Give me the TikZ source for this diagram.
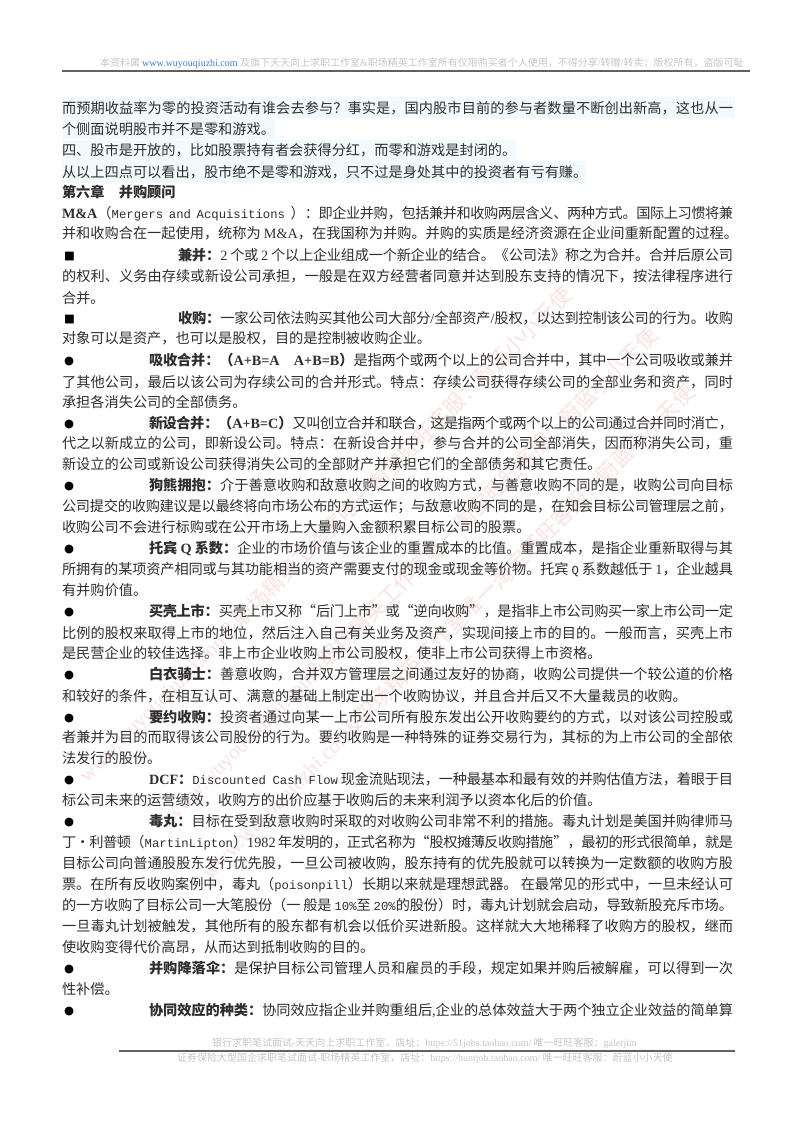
\documentclass[tikz,border=0pt]{standalone}
\usepackage{fontspec}
\setmainfont{Noto Sans CJK SC}
\newfontfamily\laf{Liberation Serif}
\newfontfamily\mof{Liberation Mono}
\newfontfamily\syf{DejaVu Sans}
\newcommand\la[1]{{\laf #1}}
\newcommand\mo[1]{{\mof\fontsize{9.2pt}{11pt}\selectfont #1}}
\definecolor{ink}{HTML}{2E2E2E}
\definecolor{faint}{HTML}{C6C6C6}
\definecolor{wm}{HTML}{FBE2E2}
\definecolor{hl}{HTML}{F3FAFD}
\definecolor{urlblue}{HTML}{3F7FD0}
\newcounter{ln}
\XeTeXlinebreaklocale "zh"
\XeTeXlinebreakskip=0pt plus 4pt minus 0.5pt
\tikzset{
  bodyline/.style={inner sep=0pt,outer sep=0pt,anchor=base west,text=ink,font=\fontsize{10.65pt}{14pt}\selectfont},
  tinyline/.style={inner sep=0pt,outer sep=0pt,anchor=base west,text=faint,font=\fontsize{7.5pt}{9pt}\selectfont},
  wmark/.style={inner sep=0pt,outer sep=0pt,anchor=base west,rotate=45,text=wm,font=\fontsize{16pt}{18pt}\selectfont},
  glyphmark/.style={inner sep=0pt,outer sep=0pt,anchor=base west,text=black,font=\syf\fontsize{8.6pt}{10pt}\selectfont},
}
% justified line: x-start, centre y, text
\newcommand\JL[3]{\stepcounter{ln}\pgfmathsetmacro\jwidth{(733-#1)*0.75}%
  \node[bodyline] (ln\theln) at (#1,#2+5.5)
   {\vbox{\hsize=\jwidth pt\leftskip=0pt\rightskip=0pt\parfillskip=0pt\parindent=0pt\pretolerance=-1\tolerance=10000\linepenalty=9000\emergencystretch=0pt\hbadness=10000\hfuzz=30pt\noindent #3\par}};}
% natural (left aligned) line
\newcommand\NL[2]{\stepcounter{ln}\node[bodyline] (ln\theln) at (62,#1+5.5) {#2};}
% marker
\newcommand\MK[2]{\stepcounter{ln}\node[glyphmark] (ln\theln) at (64,#1+4.5) {#2};}
\newcommand\WM[2]{\stepcounter{ln}\node[wmark] (ln\theln) at (#1,#2)
  {\la{www.wuyouqiuzhi.com}\&职场精英工作室唯一淘宝旺旺客服：蔚蓝小小天使};}
\begin{document}
\begin{tikzpicture}[x=0.75pt,y=-0.75pt]
\useasboundingbox (0,0) rectangle (800,1132);
\fill[white] (0,0) rectangle (800,1132);
% highlights
\fill[hl] (62,97) rectangle (735,118);
\fill[hl] (62,118) rectangle (275,139);
\fill[hl] (62,140) rectangle (516,161);
\fill[hl] (62,161) rectangle (586,183);
% watermarks
\WM{87}{783}
\WM{173}{823}
\WM{210}{880}
% header
\node[tinyline] (head) at (100,66.5) {本资料属 \textcolor{urlblue}{\underline{\la{www.wuyouqiuzhi.com }}}及旗下天天向上求职工作室\la{\&}职场精英工作室所有仅限购买者个人使用，不得分享\la{/}转赠\la{/}转卖；版权所有，盗版可耻};
\coordinate (hl) at (62,71);
\coordinate (hr) at (750,71);
\draw[black!62,line width=1pt] (hl) -- (hr);
% body
\JL{62}{108}{而预期收益率为零的投资活动有谁会去参与？事实是，国内股市目前的参与者数量不断创出新高，这也从一}
\NL{129}{个侧面说明股市并不是零和游戏。}
\NL{150}{四、股市是开放的，比如股票持有者会获得分红，而零和游戏是封闭的。}
\NL{172}{从以上四点可以看出，股市绝不是零和游戏，只不过是身处其中的投资者有亏有赚。}
\NL{192}{\textbf{第六章　并购顾问}}
\JL{62}{213}{\textbf{\la{M\&A}}（\mo{Mergers and Acquisitions }）：即企业并购，包括兼并和收购两层含义、两种方式。国际上习惯将兼}
\NL{233}{并和收购合在一起使用，统称为 \la{M\&A}，在我国称为并购。并购的实质是经济资源在企业间重新配置的过程。}
\MK{255}{■}
\JL{178}{255}{\textbf{兼并：}\la{2} 个或 \la{2} 个以上企业组成一个新企业的结合。《公司法》称之为合并。合并后原公司}
\JL{62}{276}{的权利、义务由存续或新设公司承担，一般是在双方经营者同意并达到股东支持的情况下，按法律程序进行}
\NL{298}{合并。}
\MK{318}{■}
\JL{178}{318}{\textbf{收购：}一家公司依法购买其他公司大部分\la{/}全部资产\la{/}股权，以达到控制该公司的行为。收购}
\NL{338}{对象可以是资产，也可以是股权，目的是控制被收购企业。}
\MK{360}{●}
\JL{149}{360}{\textbf{吸收合并：（\la{A+B=A}　\la{A+B=B}）}是指两个或两个以上的公司合并中，其中一个公司吸收或兼并}
\JL{62}{382}{了其他公司，最后以该公司为存续公司的合并形式。特点：存续公司获得存续公司的全部业务和资产，同时}
\NL{402}{承担各消失公司的全部债务。}
\MK{423}{●}
\JL{149}{423}{\textbf{新设合并：（\la{A+B=C}）}又叫创立合并和联合，这是指两个或两个以上的公司通过合并同时消亡，}
\JL{62}{443}{代之以新成立的公司，即新设公司。特点：在新设合并中，参与合并的公司全部消失，因而称消失公司，重}
\NL{464}{新设立的公司或新设公司获得消失公司的全部财产并承担它们的全部债务和其它责任。}
\MK{485}{●}
\JL{149}{485}{\textbf{狗熊拥抱：}介于善意收购和敌意收购之间的收购方式，与善意收购不同的是，收购公司向目标}
\JL{62}{506}{公司提交的收购建议是以最终将向市场公布的方式运作；与敌意收购不同的是，在知会目标公司管理层之前，}
\NL{527}{收购公司不会进行标购或在公开市场上大量购入金额积累目标公司的股票。}
\MK{548}{●}
\JL{149}{548}{\textbf{托宾 \la{Q} 系数：}企业的市场价值与该企业的重置成本的比值。重置成本，是指企业重新取得与其}
\JL{62}{569}{所拥有的某项资产相同或与其功能相当的资产需要支付的现金或现金等价物。托宾 \mo{Q} 系数越低于 \la{1}，企业越具}
\NL{590}{有并购价值。}
\MK{611}{●}
\JL{149}{611}{\textbf{买壳上市：}买壳上市又称“后门上市”或“逆向收购”，是指非上市公司购买一家上市公司一定}
\JL{62}{633}{比例的股权来取得上市的地位，然后注入自己有关业务及资产，实现间接上市的目的。一般而言，买壳上市}
\NL{653}{是民营企业的较佳选择。非上市企业收购上市公司股权，使非上市公司获得上市资格。}
\MK{674}{●}
\JL{149}{674}{\textbf{白衣骑士：}善意收购，合并双方管理层之间通过友好的协商，收购公司提供一个较公道的价格}
\NL{696}{和较好的条件，在相互认可、满意的基础上制定出一个收购协议，并且合并后又不大量裁员的收购。}
\MK{717}{●}
\JL{149}{717}{\textbf{要约收购：}投资者通过向某一上市公司所有股东发出公开收购要约的方式，以对该公司控股或}
\JL{62}{737}{者兼并为目的而取得该公司股份的行为。要约收购是一种特殊的证券交易行为，其标的为上市公司的全部依}
\NL{758}{法发行的股份。}
\MK{779}{●}
\JL{149}{779}{\textbf{\la{DCF}：}\mo{Discounted Cash Flow} 现金流贴现法，一种最基本和最有效的并购估值方法，着眼于目}
\NL{800}{标公司未来的运营绩效，收购方的出价应基于收购后的未来利润予以资本化后的价值。}
\MK{821}{●}
\JL{149}{821}{\textbf{毒丸：}目标在受到敌意收购时采取的对收购公司非常不利的措施。毒丸计划是美国并购律师马}
\JL{62}{842}{丁·利普顿（\mo{MartinLipton}）\la{1982} 年发明的，正式名称为“股权摊薄反收购措施”，最初的形式很简单，就是}
\JL{62}{863}{目标公司向普通股股东发行优先股，一旦公司被收购，股东持有的优先股就可以转换为一定数额的收购方股}
\JL{62}{884}{票。在所有反收购案例中，毒丸（\mo{poisonpill}）长期以来就是理想武器。 在最常见的形式中，一旦未经认可}
\JL{62}{905}{的一方收购了目标公司一大笔股份（一 般是 \mo{10\%}至 \mo{20\%}的股份）时，毒丸计划就会启动，导致新股充斥市场。}
\JL{62}{926}{一旦毒丸计划被触发，其他所有的股东都有机会以低价买进新股。这样就大大地稀释了收购方的股权，继而}
\NL{947}{使收购变得代价高昂，从而达到抵制收购的目的。}
\MK{968}{●}
\JL{149}{968}{\textbf{并购降落伞：}是保护目标公司管理人员和雇员的手段，规定如果并购后被解雇，可以得到一次}
\NL{989}{性补偿。}
\MK{1010}{●}
\JL{149}{1010}{\textbf{协同效应的种类：}协同效应指企业并购重组后\la{,}企业的总体效益大于两个独立企业效益的简单算}
% footer
\node[tinyline] (foota) at (212,1046.5) {银行求职笔试面试\la{-}天天向上求职工作室，店址：\la{https://51jobs.taobao.com/} 唯一旺旺客服：\la{galerjim}};
\coordinate (fl) at (119,1051);
\coordinate (fr) at (735,1051);
\draw[black!62,line width=1pt] (fl) -- (fr);
\node[tinyline] (footb) at (177,1061.5) {证券保险大型国企求职笔试面试\la{-}职场精英工作室，店址：\la{https://huntjob.taobao.com/} 唯一旺旺客服：蔚蓝小小天使};
\end{tikzpicture}
\end{document}
